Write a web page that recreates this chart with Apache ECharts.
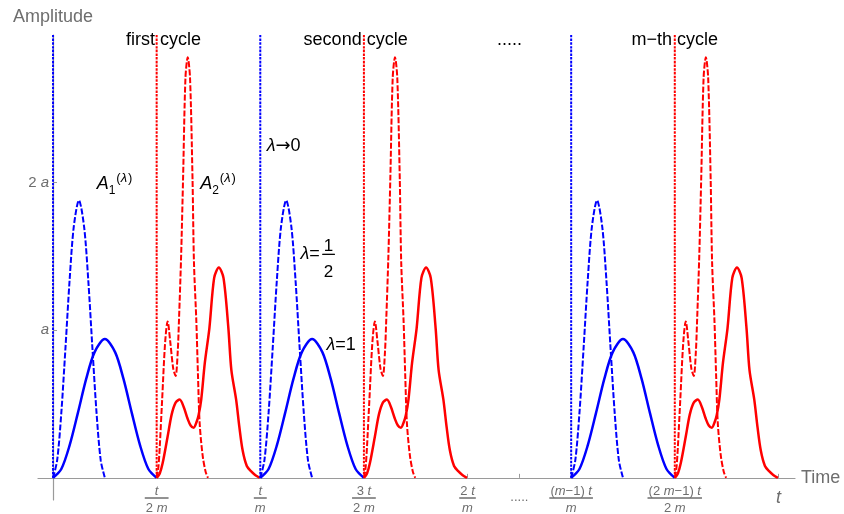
<!DOCTYPE html>
<html>
<head>
<meta charset="UTF-8">
<title>Amplitude / Time cycles</title>
<script src="https://cdn.jsdelivr.net/npm/echarts@6/dist/echarts.min.js"></script>
<style>
  html, body { margin: 0; padding: 0; background: #fff; }
  #chart { width: 844px; height: 514px; }
</style>
</head>
<body>
<div id="chart"></div>
<script>
// cycle start positions (units of t/2m), the m-th cycle sits after the gap
var cycleStart = [0, 2, 5];
var spikeTop = 3;

// A1, lambda = 1/2 (dashed) over half a slot
var blueHalfX = [0, 0.04, 0.08, 0.12, 0.16, 0.2, 0.25, 0.3, 0.34, 0.38, 0.42, 0.46, 0.5];
var blueHalfY = [0, 0.12, 0.44, 0.88, 1.34, 1.70, 1.88, 1.70, 1.34, 0.88, 0.44, 0.12, 0];
// A1, lambda = 1 (solid)
var blueOneX = [0, 0.08, 0.16, 0.24, 0.32, 0.4, 0.5, 0.6, 0.68, 0.76, 0.84, 0.92, 1];
var blueOneY = [0, 0.06, 0.22, 0.44, 0.67, 0.85, 0.94, 0.85, 0.67, 0.44, 0.22, 0.06, 0];
// A2, lambda = 1/2 (dashed)
var redHalfX = [0, 0.015, 0.029, 0.053, 0.082, 0.106, 0.130, 0.160, 0.183, 0.203, 0.215, 0.236,
                0.255, 0.278, 0.300, 0.322, 0.346, 0.360, 0.383, 0.399, 0.415, 0.444, 0.473, 0.495];
var redHalfY = [0, 0.06, 0.2, 0.53, 0.92, 1.06, 0.93, 0.74, 0.69, 0.85, 1.06, 1.5,
                2.03, 2.71, 2.85, 2.71, 2.03, 1.46, 1.06, 0.69, 0.37, 0.15, 0.04, 0];
// A2, lambda = 1 (solid)
var redOneX = [0, 0.03, 0.058, 0.106, 0.145, 0.183, 0.222, 0.261, 0.299, 0.328, 0.357, 0.386, 0.405, 0.430,
               0.465, 0.509, 0.555, 0.600, 0.645, 0.692, 0.721, 0.767, 0.798, 0.830, 0.870, 0.910, 0.950, 0.995];
var redOneY = [0, 0.03, 0.10, 0.28, 0.43, 0.51, 0.53, 0.48, 0.40, 0.355, 0.34, 0.38, 0.425, 0.53,
               0.78, 1.015, 1.355, 1.425, 1.355, 1.015, 0.73, 0.53, 0.345, 0.185, 0.08, 0.045, 0.02, 0];

var xTickValues = [1, 2, 3, 4, 4.5, 5, 6, 7];
var xTickLabels = ['t/2 m', 't/m', '3 t/2 m', '2 t/m', '.....', '(m\u22121) t/m', '(2 m\u22121) t/2 m', 't'];
var yTickValues = [1, 2];
var yTickLabels = ['a', '2 a'];

var noteText = ['first cycle', 'second cycle', '.....', 'm\u2212th cycle', 'A1(\u03bb)', 'A2(\u03bb)',
                '\u03bb\u21920', '\u03bb=', '1/2', '\u03bb=1'];
var noteX = [1.071, 2.925, 4.41, 6.004, 0.598, 1.597, 2.23, 2.486, 2.664, 2.785];
var noteY = [2.96, 2.96, 2.96, 2.96, 1.985, 1.985, 2.243, 1.511, 1.443, 0.894];

var BLUE = '#0000ff', RED = '#ff0000', AXIS = '#9a9a9a', TXT = '#6e6e6e';
var FONT = '"Liberation Sans", Arial, sans-serif';

var measureCtx = document.createElement('canvas').getContext('2d');
function textWidth(s, size) {
  measureCtx.font = 'italic ' + size + 'px ' + FONT;
  return measureCtx.measureText(s).width;
}

function shifted(xs, ys, x0) {
  return xs.map(function (x, i) { return [x0 + x, ys[i]]; });
}
function curve(data, color, type, width) {
  return {
    type: 'line', data: data, showSymbol: false, smooth: 0.3, silent: true,
    lineStyle: { color: color, width: width, type: type }
  };
}
function spike(x, color) {
  return curve([[x, 0], [x, spikeTop]], color, [2.5, 1.2], 2);
}

var series = [];
cycleStart.forEach(function (s) {
  series.push(spike(s, BLUE));
  series.push(spike(s + 1, RED));
  series.push(curve(shifted(blueOneX, blueOneY, s), BLUE, 'solid', 2.5));
  series.push(curve(shifted(blueHalfX, blueHalfY, s), BLUE, [6, 2], 2));
  series.push(curve(shifted(redOneX, redOneY, s + 1), RED, 'solid', 2.5));
  series.push(curve(shifted(redHalfX, redHalfY, s + 1), RED, [6, 2], 2));
});

// letters t, m, a italic, the rest upright
function mathRich(s, reg, ita) {
  var out = '';
  s.replace(/([tma])|([^tma]+)/g, function (all, v, rest) {
    out += v ? '{' + ita + '|' + v + '}' : '{' + reg + '|' + rest + '}';
  });
  return out;
}

// note labels
var noteStyles = {
  t: { fontSize: 18, color: '#000', fontFamily: FONT, lineHeight: 24 },
  ar: { fontSize: 18, color: '#000', fontFamily: '"DejaVu Sans", sans-serif', lineHeight: 24 },
  it: { fontSize: 18, color: '#000', fontFamily: FONT, fontStyle: 'italic', lineHeight: 24 },
  sub: { fontSize: 12, color: '#000', fontFamily: FONT, verticalAlign: 'bottom', lineHeight: 24 },
  sup: { fontSize: 13, color: '#000', fontFamily: FONT, verticalAlign: 'top', lineHeight: 24, padding: [0, 0, 0, 1] },
  supi: { fontSize: 13, color: '#000', fontFamily: FONT, fontStyle: 'italic', verticalAlign: 'top', lineHeight: 24 },
  fn: { fontSize: 17, color: '#000', fontFamily: FONT, lineHeight: 12 },
  fd: { fontSize: 17, color: '#000', fontFamily: FONT, lineHeight: 32 }
};
function noteRich(s, k) {
  var m = s.match(/^A(\d)\(\u03bb\)$/);
  if (m) return '{it|A}{sub|' + m[1] + '}{sup|(}{supi|\u03bb}{sup|)}';
  if (s.indexOf('/') > 0) {
    var p = s.split('/');
    var key = 'nhr' + k;
    if (!noteStyles[key]) {
      noteStyles[key] = { width: Math.max(textWidth(p[0], 17), textWidth(p[1], 17)) + 3, height: 0,
                          borderColor: '#000', borderWidth: 1, lineHeight: 4 };
    }
    return '{fn|' + p[0] + '}\n{' + key + '|}\n{fd|' + p[1] + '}';
  }
  return s.split('\u03bb').map(function (part) {
    if (!part) return '';
    return part.replace(/\u2192/, '\u0000').split('\u0000').map(function (q) {
      return q ? '{t|' + q + '}' : '';
    }).join('{ar|\u2192}');
  }).join('{it|\u03bb}');
}
noteText.forEach(function (s, k) { noteRich(s, k); });

series.push({
  type: 'scatter', symbolSize: 1, silent: true, z: 10,
  itemStyle: { color: 'rgba(0,0,0,0)' },
  data: noteText.map(function (t, i) { return [noteX[i], noteY[i]]; }),
  label: {
    show: true, position: [0, 0], align: 'center', verticalAlign: 'middle',
    color: '#000', opacity: 1, textBorderWidth: 0,
    formatter: function (p) { return noteRich(noteText[p.dataIndex], p.dataIndex); },
    rich: noteStyles
  }
});

// x tick label styles, one fraction bar per label sized to its text
var xRich = {
  r: { fontSize: 13, color: TXT, fontFamily: FONT, lineHeight: 12 },
  i: { fontSize: 13, color: TXT, fontFamily: FONT, fontStyle: 'italic', lineHeight: 12 },
  rd: { fontSize: 13, color: TXT, fontFamily: FONT, lineHeight: 18 },
  id: { fontSize: 13, color: TXT, fontFamily: FONT, fontStyle: 'italic', lineHeight: 18 },
  big: { fontSize: 18, color: TXT, fontFamily: FONT, fontStyle: 'italic', lineHeight: 25 },
  dots: { fontSize: 13, color: TXT, fontFamily: FONT, lineHeight: 24 }
};
xTickLabels.forEach(function (s, k) {
  if (s.indexOf('/') < 0) return;
  var p = s.split('/');
  xRich['hr' + k] = { width: Math.max(textWidth(p[0], 13), textWidth(p[1], 13)) + 2, height: 0,
                      borderColor: TXT, borderWidth: 1, lineHeight: 2 };
});

var chart = echarts.init(document.getElementById('chart'));
chart.setOption({
  animation: false,
  grid: { left: 38, right: 49, top: 35, bottom: 14, containLabel: false, outerBoundsMode: 'none' },
  xAxis: {
    type: 'value', min: -0.145, max: 7.16,
    name: 'Time', nameLocation: 'end', nameGap: 6, nameMoveOverlap: false,
    nameTextStyle: { color: TXT, fontSize: 18, fontFamily: FONT },
    axisLine: { onZero: true, lineStyle: { color: AXIS, width: 1.2 } },
    axisTick: { show: true, inside: true, length: 4, customValues: xTickValues, lineStyle: { color: AXIS } },
    splitLine: { show: false },
    axisLabel: {
      // labels are laid out from the grid edge, the axis line sits 22px above it
      customValues: xTickValues, margin: -15, color: TXT,
      formatter: function (v) {
        var k = xTickValues.indexOf(v);
        var s = xTickLabels[k];
        if (s === undefined) return '';
        if (s.indexOf('/') >= 0) {
          var p = s.split('/');
          return mathRich(p[0], 'r', 'i') + '\n{hr' + k + '|}\n' + mathRich(p[1], 'rd', 'id');
        }
        if (s === 't') return '{big|t}';
        return '{dots|' + s + '}';
      },
      rich: xRich
    }
  },
  yAxis: {
    type: 'value', min: -0.15, max: 3,
    name: 'Amplitude', nameLocation: 'end', nameGap: 9, nameMoveOverlap: false,
    nameTextStyle: { color: TXT, fontSize: 18, fontFamily: FONT, align: 'center' },
    axisLine: { onZero: true, lineStyle: { color: AXIS, width: 1.2 } },
    axisTick: { show: true, inside: true, length: 4, customValues: yTickValues, lineStyle: { color: AXIS } },
    splitLine: { show: false },
    axisLabel: {
      customValues: yTickValues, margin: -11, color: TXT,
      formatter: function (v) {
        var s = yTickLabels[yTickValues.indexOf(v)];
        return s === undefined ? '' : mathRich(s, 'r', 'i');
      },
      rich: {
        r: { fontSize: 15, color: TXT, fontFamily: FONT },
        i: { fontSize: 15, color: TXT, fontFamily: FONT, fontStyle: 'italic' }
      }
    }
  },
  series: series
});
</script>
</body>
</html>
